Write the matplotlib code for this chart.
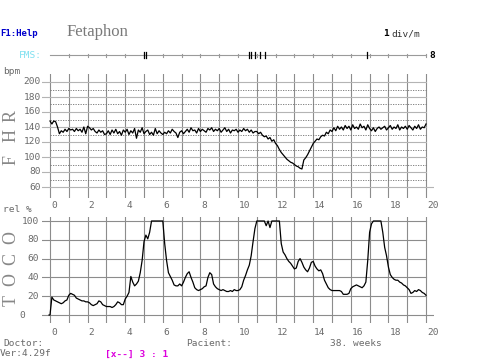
import numpy as np
import matplotlib
matplotlib.use('Agg')
import matplotlib.pyplot as plt

# FHR (bpm), one sample every 0.1 min, 0..20
fhr = [
    148, 144, 148, 147, 140, 131, 135, 133, 137, 134,
    138, 136, 137, 134, 138, 135, 137, 133, 140, 131,
    141, 139, 136, 138, 134, 132, 136, 133, 135, 130,
    131, 135, 130, 136, 132, 137, 131, 134, 129, 136,
    133, 137, 130, 135, 132, 138, 125, 136, 133, 139,
    131, 134, 136, 130, 133, 129, 138, 131, 135, 132,
    130, 133, 131, 135, 132, 137, 134, 132, 126, 133,
    135, 131, 134, 137, 133, 139, 135, 136, 132, 138,
    134, 137, 135, 133, 138, 136, 139, 134, 137, 135,
    138, 133, 136, 139, 134, 137, 132, 136, 135, 137,
    133, 136, 134, 138, 135, 137, 133, 136, 132, 134,
    134, 131, 133, 129, 127, 128, 124, 126, 121, 123,
    118, 115, 110, 106, 103, 100, 97, 95, 93, 92,
    90, 88, 87, 85, 84, 96, 99, 103, 108, 113,
    118, 121, 124, 123, 127, 129, 128, 133, 131, 136,
    134, 139, 135, 141, 137, 140, 136, 142, 138, 141,
    136, 143, 138, 140, 137, 144, 139, 141, 136, 143,
    138, 135, 139, 134, 138, 140, 137, 139, 141, 136,
    139, 142, 137, 140, 138, 143, 136, 140, 138, 141,
    137, 142, 139, 136, 141, 138, 143, 137, 140, 139,
    144,
]

# TOCO (rel %), one sample every 0.1 min, 0..20
toco = [
    0, 19, 16, 15, 14, 13, 12, 13, 15, 16,
    21, 23, 22, 21, 18, 17, 16, 15, 15, 14,
    14, 13, 11, 10, 11, 12, 15, 14, 11, 10,
    9, 9, 9, 8, 9, 11, 14, 13, 11, 11,
    17, 20, 24, 41, 35, 31, 33, 36, 45, 58,
    78, 85, 81, 88, 100, 100, 100, 100, 100, 100,
    100, 76, 58, 45, 41, 37, 32, 31, 31, 33,
    31, 35, 40, 44, 46, 40, 35, 29, 27, 26,
    27, 28, 30, 31, 40, 45, 43, 33, 30, 28,
    27, 26, 27, 26, 25, 25, 26, 25, 27, 26,
    26, 27, 30, 37, 42, 48, 53, 63, 78, 92,
    100, 100, 100, 100, 100, 95, 100, 93, 100, 100,
    100, 100, 100, 76, 67, 64, 60, 57, 55, 52,
    49, 50, 57, 60, 56, 51, 48, 46, 50, 56,
    57, 52, 49, 47, 48, 44, 37, 33, 29, 27,
    26, 26, 26, 26, 26, 25, 22, 22, 22, 23,
    28, 30, 31, 32, 31, 30, 29, 31, 35, 58,
    88, 97, 100, 100, 100, 100, 100, 88, 72, 63,
    51, 43, 40, 38, 37, 37, 35, 34, 32, 31,
    29, 27, 23, 24, 26, 25, 27, 26, 24, 23,
    21,
]

fms_events = [5.0, 5.11, 10.57, 10.69, 10.9, 11.17, 11.44, 16.86]

fhr_ticks = [60, 80, 100, 120, 140, 160, 180, 200]
toco_ticks = [0, 20, 40, 60, 80, 100]
time_labels = [0, 2, 4, 6, 8, 10, 12, 14, 16, 18, 20]

t = np.linspace(0, 20, len(fhr))
t_toco = np.linspace(0, 20, len(toco))

W, H = 480, 360
fig = plt.figure(figsize=(4.8, 3.6), dpi=100)
fig.patch.set_facecolor('white')

mono = 'DejaVu Sans Mono'
serif = 'Liberation Serif'
lbl_col = '#6a6a6a'
fs = 6.8


def px_axes(x0, y0, x1, y1):
    return fig.add_axes([x0 / W, 1 - y1 / H, (x1 - x0) / W, (y1 - y0) / H])


def ftext(x, y, s, **kw):
    fig.text(x / W, 1 - y / H, s, va='center', **kw)


vcol = '#8c8c8c'
xl = (-0.45, 20.4)

# ---- FHR panel ----
ax1 = px_axes(41.54, 73.75, 433.54, 197.5)
ax1.set_xlim(*xl)
ax1.set_ylim(46, 211)
ax1.axis('off')
for i in range(21):
    ax1.axvline(i, color=vcol, lw=0.8)
for v in fhr_ticks:
    end = xl[1] if v == 60 else 20
    ax1.plot([-0.43, end], [v, v], color='#b4b4b4', lw=0.8)
    ax1.text(-0.5, v, str(v), ha='right', va='center', fontsize=fs,
             family=mono, color=lbl_col)
for v in range(70, 200, 20):
    ax1.plot([0, 20], [v, v], color='#707070', lw=0.6, ls=(0, (1.5, 1.5)))
ax1.plot(t, fhr, color='black', lw=0.9)

# ---- TOCO panel ----
ax2 = px_axes(41.54, 217.24, 433.54, 322.52)
ax2.set_xlim(*xl)
ax2.set_ylim(-8, 104)
ax2.axis('off')
for i in range(21):
    ax2.axvline(i, color=vcol, lw=0.8)
for v in toco_ticks:
    end = xl[1] if v == 0 else 20
    ax2.plot([-0.43, end], [v, v], color=vcol, lw=0.8)
    if v == 0:
        ax2.text(-1.47, v, str(v), ha='center', va='center', fontsize=fs,
                 family=mono, color=lbl_col)
    else:
        ax2.text(-0.6, v, str(v), ha='right', va='center', fontsize=fs,
                 family=mono, color=lbl_col)
for v in time_labels:
    ax2.text(v + 0.05, 117, str(v), ha='left', va='center', fontsize=fs,
             family=mono, color=lbl_col, clip_on=False)
    ax2.text(v + 0.05, -18.5, str(v), ha='left', va='center', fontsize=fs,
             family=mono, color=lbl_col, clip_on=False)
ax2.plot(np.r_[-0.05, t_toco], np.r_[0, toco], color='black', lw=0.9)

# ---- FMS strip ----
ax3 = px_axes(41.54, 49, 433.54, 61)
ax3.set_xlim(*xl)
ax3.set_ylim(-1, 1)
ax3.axis('off')
ax3.plot([0, 20], [0, 0], color='#9a9a9a', lw=0.8)
for i in range(1, 21):
    ax3.plot([i, i], [-0.25, 0.2], color='#9a9a9a', lw=0.8)
for e in fms_events:
    ax3.plot([e, e], [-0.5, 0.5], color='black', lw=0.9)

# ---- side labels ----
for ch, y in [('F', 160), ('H', 135), ('R', 116)]:
    ftext(11, y, ch, rotation=90, ha='center', fontsize=13, family=serif,
          color='#888888')
for ch, y in [('T', 300), ('O', 279), ('C', 259), ('O', 238)]:
    ftext(11, y, ch, rotation=90, ha='center', fontsize=13, family=serif,
          color='#888888')

# ---- header / footer texts ----
ftext(0, 34, 'F1:Help', ha='left', fontsize=6.5, family=mono,
      fontweight='bold', color='#0000cc')
ftext(67, 32, 'Fetaphon', ha='left', fontsize=12, family=serif, color='#7a7a7a')
ftext(383, 34, '1', ha='left', fontsize=fs, family=mono, fontweight='bold',
      color='black')
ftext(391, 34, 'div/m', ha='left', fontsize=fs, family=mono, color='#333333')
ftext(19, 55, 'FMS:', ha='left', fontsize=fs, family=mono, color='#7fe0f0')
ftext(429, 55, '8', ha='left', fontsize=fs, family=mono, fontweight='bold',
      color='black')
ftext(3, 71, 'bpm', ha='left', fontsize=fs, family=mono, color=lbl_col)
ftext(3, 209, 'rel %', ha='left', fontsize=fs, family=mono, color=lbl_col)
ftext(3, 343, 'Doctor:', ha='left', fontsize=fs, family=mono, color=lbl_col)
ftext(186, 343, 'Pacient:', ha='left', fontsize=fs, family=mono, color=lbl_col)
ftext(330, 343, '38. weeks', ha='left', fontsize=fs, family=mono, color=lbl_col)
ftext(0, 354, 'Ver:4.29f', ha='left', fontsize=fs, family=mono, color=lbl_col)
ftext(105, 354, '[x--] 3 : 1', ha='left', fontsize=fs, family=mono,
      fontweight='bold', color='#dd00dd')

fig.savefig('out.png', dpi=100)
